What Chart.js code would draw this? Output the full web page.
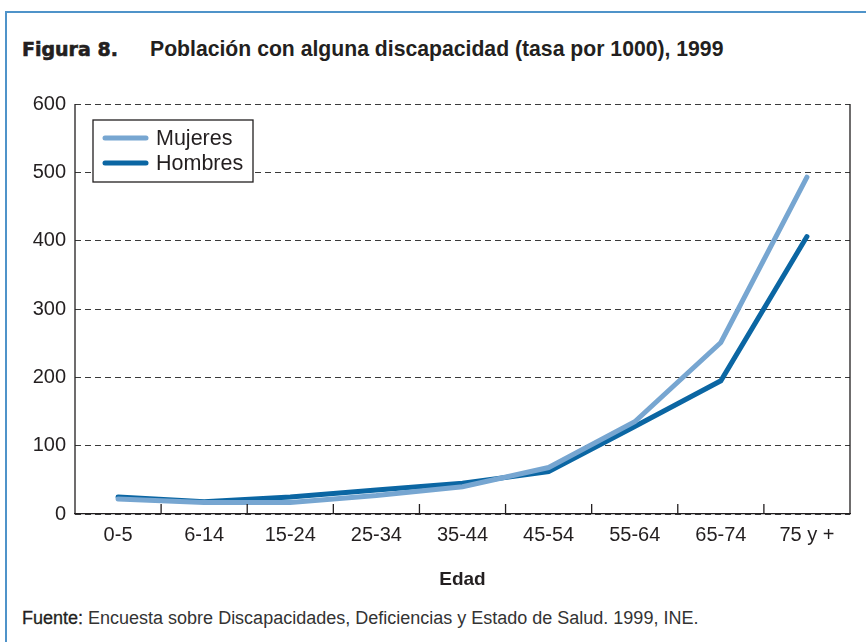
<!DOCTYPE html>
<html>
<head>
<meta charset="utf-8">
<script src="https://cdn.jsdelivr.net/npm/chart.js@4"></script>
<style>
  body { margin: 0; background: #fff; }
  #page { position: relative; width: 866px; height: 642px; overflow: hidden; font-family: "Liberation Sans", Arial, sans-serif; color: #231f20; }
  #frameTop { position: absolute; left: 5px; top: 11px; width: 861px; height: 2px; background: #4f93c9; }
  #frameLeft { position: absolute; left: 5px; top: 11px; width: 2px; height: 631px; background: #4f93c9; }
  #title { position: absolute; left: 22px; top: 37px; font-size: 21.2px; font-weight: bold; white-space: nowrap; }
  #title .num { font-family: "DejaVu Sans", sans-serif; font-weight: 900; font-size: 19px; display: inline-block; width: 128px; -webkit-text-stroke: 0.6px #231f20; }
  #source { position: absolute; left: 22px; top: 608px; font-size: 18px; color: #333; white-space: nowrap; }
  #source b { font-weight: normal; color: #231f20; -webkit-text-stroke: 0.3px #231f20; }
  #wrap { position: absolute; left: 10px; top: 83px; width: 856px; height: 512px; }
</style>
</head>
<body>
<div id="page">
  <div id="frameTop"></div>
  <div id="frameLeft"></div>
  <div id="title"><span class="num">Figura 8.</span>Población con alguna discapacidad (tasa por 1000), 1999</div>
  <div id="wrap"><canvas id="chart"></canvas></div>
  <div id="source"><b>Fuente:</b> Encuesta sobre Discapacidades, Deficiencias y Estado de Salud. 1999, INE.</div>
</div>
<script>
const ageGroups = ["0-5", "6-14", "15-24", "25-34", "35-44", "45-54", "55-64", "65-74", "75 y +"];
const mujeres = [22, 17, 17, 27, 40, 68, 135, 251, 493];
const hombres = [25, 18, 25, 35, 45, 62, 128, 195, 406];
const yTicks = [0, 100, 200, 300, 400, 500, 600];

const lightBlue = "#77a6d1";
const darkBlue = "#0b66a3";

// solid left/right borders, inner x ticks and the boxed legend inside the plot
const framePlugin = {
  id: "frame",
  afterDraw(chart) {
    const ctx = chart.ctx;
    const area = chart.chartArea;
    const x = chart.scales.x;
    ctx.save();
    ctx.strokeStyle = "#231f20";
    ctx.lineWidth = 1.3;
    ctx.beginPath();
    ctx.moveTo(area.left, area.top);
    ctx.lineTo(area.left, area.bottom);
    ctx.moveTo(area.right, area.top);
    ctx.lineTo(area.right, area.bottom);
    for (let i = 1; i < ageGroups.length; i++) {
      const px = (x.getPixelForValue(i - 1) + x.getPixelForValue(i)) / 2;
      ctx.moveTo(px, area.bottom);
      ctx.lineTo(px, area.bottom - 10);
    }
    ctx.stroke();

    // legend
    const lx = area.left + 18, ly = area.top + 16, lw = 160, lh = 62;
    ctx.fillStyle = "#fff";
    ctx.fillRect(lx, ly, lw, lh);
    ctx.strokeStyle = "#231f20";
    ctx.lineWidth = 1.3;
    ctx.strokeRect(lx, ly, lw, lh);
    ctx.font = "21.5px 'Liberation Sans', Arial, sans-serif";
    ctx.textBaseline = "middle";
    chart.data.datasets.forEach((ds, i) => {
      const yy = ly + 18 + i * 25;
      ctx.strokeStyle = ds.borderColor;
      ctx.lineWidth = 5;
      ctx.lineCap = "round";
      ctx.beginPath();
      ctx.moveTo(lx + 12, yy);
      ctx.lineTo(lx + 53, yy);
      ctx.stroke();
      ctx.fillStyle = "#231f20";
      ctx.fillText(ds.label, lx + 63, yy + 1);
    });
    ctx.restore();
  }
};

const ctx = document.getElementById("chart").getContext("2d");
new Chart(ctx, {
  type: "line",
  data: {
    labels: ageGroups,
    datasets: [
      { label: "Mujeres", data: mujeres, borderColor: lightBlue, backgroundColor: lightBlue, borderWidth: 5, pointRadius: 0, tension: 0, borderCapStyle: "round", borderJoinStyle: "miter" },
      { label: "Hombres", data: hombres, borderColor: darkBlue, backgroundColor: darkBlue, borderWidth: 5, pointRadius: 0, tension: 0, borderCapStyle: "round", borderJoinStyle: "miter" }
    ]
  },
  options: {
    responsive: true,
    maintainAspectRatio: false,
    animation: false,
    layout: { padding: { top: 7, right: 16, left: 0, bottom: 0 } },
    plugins: {
      legend: { display: false },
      tooltip: { enabled: false }
    },
    scales: {
      x: {
        offset: true,
        grid: { display: false },
        border: { display: true, color: "#231f20", width: 1.3 },
        ticks: { color: "#231f20", font: { family: "'Liberation Sans', Arial, sans-serif", size: 20 }, padding: 1, maxRotation: 0 },
        title: { display: true, text: "Edad", color: "#231f20", font: { family: "'Liberation Sans', Arial, sans-serif", size: 19, weight: "bold" }, padding: { top: 22 } },
        afterFit(scale) { scale.height = 81; }
      },
      y: {
        min: 0,
        max: 600,
        afterBuildTicks(scale) { scale.ticks = yTicks.map(v => ({ value: v })); },
        grid: { color: "#3a3a3a", lineWidth: 1, drawTicks: false },
        border: { display: false, dash: [6, 4] },
        ticks: { color: "#231f20", font: { family: "'Liberation Sans', Arial, sans-serif", size: 20 }, padding: 9 },
        afterFit(scale) { scale.width = 65; }
      }
    }
  },
  plugins: [framePlugin]
});
</script>
</body>
</html>
